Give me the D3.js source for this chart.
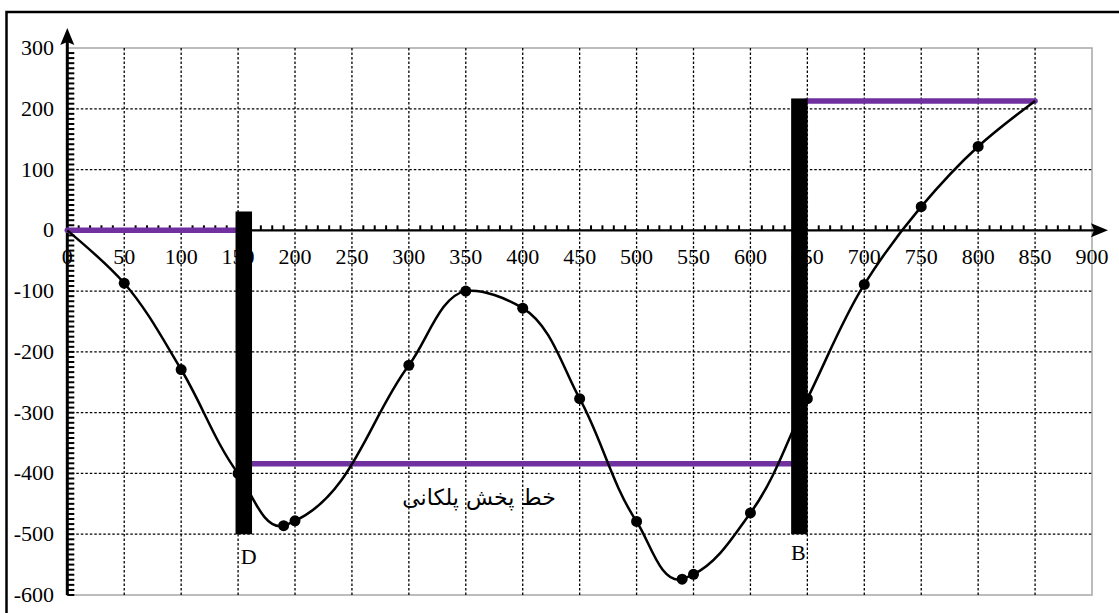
<!DOCTYPE html>
<html>
<head>
<meta charset="utf-8">
<script src="https://cdn.jsdelivr.net/npm/d3@7"></script>
<style>
  body { margin: 0; background: #fff; }
  svg { display: block; }
</style>
</head>
<body>
<svg id="chart" width="1119" height="613"></svg>
<script>
// curve samples (x, value)
const xValues = [0, 50, 100, 150, 190, 200, 300, 350, 400, 450, 500, 540, 550, 600, 650, 700, 750, 800, 850];
const yValues = [0, -87, -229, -400, -486, -478, -222, -100, -128, -277, -479, -574, -566, -465, -277, -89, 39, 138, 213];
// points drawn with a marker
const markedX = [50, 100, 150, 190, 200, 300, 350, 400, 450, 500, 540, 550, 600, 650, 700, 750, 800];

// stepped line segments: [x1, x2, level]
const stepSegments = [[0, 150, 0], [162, 636, -384], [649, 850, 213]];
// vertical bars
const barsX = [155, 643];
const barsTop = [31, 217];
const barsBottom = [-500, -500];
const barLabels = ['D', 'B'];

const xTicks = d3.range(0, 901, 50);
const yTicks = [300, 200, 100, 0, -100, -200, -300, -400, -500, -600];
const xGrid = d3.range(50, 851, 50);
const yGrid = [200, 100, -100, -200, -300, -400, -500];
const stepLabel = 'خط پخش پلکانی';

const serif = '"Liberation Serif", "Times New Roman", serif';
const svg = d3.select('#chart');
const x = d3.scaleLinear().domain([0, 900]).range([67.3, 1092]);
const y = d3.scaleLinear().domain([-600, 300]).range([595, 48]);

svg.append('rect').attr('width', 1119).attr('height', 613).attr('fill', '#fff');
// outer frame (runs past the right and bottom edges)
svg.append('rect').attr('x', 6.5).attr('y', 12).attr('width', 1130).attr('height', 620)
  .attr('fill', 'none').attr('stroke', '#000').attr('stroke-width', 2.5);

// plot border
svg.append('rect').attr('x', x(0)).attr('y', y(300)).attr('width', x(900) - x(0)).attr('height', y(-600) - y(300))
  .attr('fill', 'none').attr('stroke', '#a6a6a6').attr('stroke-width', 1.5);

// grid
const grid = svg.append('g').attr('stroke', '#000').attr('stroke-width', 1.3).attr('stroke-dasharray', '2.5,2');
grid.selectAll('.vg').data(xGrid).join('line')
  .attr('x1', d => x(d)).attr('x2', d => x(d)).attr('y1', y(300)).attr('y2', y(-600));
grid.selectAll('.hg').data(yGrid).join('line')
  .attr('x1', x(0)).attr('x2', x(900)).attr('y1', d => y(d)).attr('y2', d => y(d));

// x axis with minor ticks
const xMinor = d3.range(10, 900, 10).filter(d => d % 50 !== 0);
svg.append('g').selectAll('line').data(xMinor).join('line')
  .attr('x1', d => x(d)).attr('x2', d => x(d)).attr('y1', y(0)).attr('y2', y(0) - 5)
  .attr('stroke', '#000').attr('stroke-width', 2);
svg.append('line').attr('x1', x(0)).attr('x2', 1100).attr('y1', y(0)).attr('y2', y(0))
  .attr('stroke', '#000').attr('stroke-width', 2.2);
svg.append('path').attr('d', `M1108,${y(0)} L1091,${y(0) - 7} L1094,${y(0)} L1091,${y(0) + 7} Z`).attr('fill', '#000');

// y axis with minor ticks
const yMinor = d3.range(-600, 300, 100 / 12);
svg.append('g').selectAll('line').data(yMinor).join('line')
  .attr('x1', x(0)).attr('x2', x(0) + 7).attr('y1', d => y(d)).attr('y2', d => y(d))
  .attr('stroke', '#000').attr('stroke-width', 2);
svg.append('line').attr('x1', x(0)).attr('x2', x(0)).attr('y1', y(-600)).attr('y2', 36)
  .attr('stroke', '#000').attr('stroke-width', 3);
svg.append('path').attr('d', `M${x(0)},28 L${x(0) - 7},45 L${x(0)},42 L${x(0) + 7},45 Z`).attr('fill', '#000');

// tick labels
svg.append('g').selectAll('text').data(xTicks).join('text')
  .attr('font-family', serif).attr('font-size', 22)
  .attr('x', d => x(d)).attr('y', y(0) + 34)
  .attr('text-anchor', 'middle').text(d => d);
svg.append('g').selectAll('text').data(yTicks).join('text')
  .attr('font-family', serif).attr('font-size', 22)
  .attr('x', 54).attr('y', d => y(d) + 7)
  .attr('text-anchor', 'end').text(d => d < 0 ? '-' + Math.abs(d) : d);

// stepped line
svg.append('g').selectAll('line').data(stepSegments).join('line')
  .attr('x1', d => x(d[0])).attr('x2', d => x(d[1])).attr('y1', d => y(d[2])).attr('y2', d => y(d[2]))
  .attr('stroke', '#7030a0').attr('stroke-width', 5.5).attr('stroke-linecap', 'round');

// curve
const pts = xValues.map((v, i) => [v, yValues[i]]);
const line = d3.line().x(d => x(d[0])).y(d => y(d[1])).curve(d3.curveCatmullRom.alpha(1));
svg.append('path').attr('d', line(pts)).attr('fill', 'none').attr('stroke', '#000').attr('stroke-width', 2.5);
svg.append('g').selectAll('circle').data(pts.filter(d => markedX.includes(d[0]))).join('circle')
  .attr('cx', d => x(d[0])).attr('cy', d => y(d[1])).attr('r', 5.5).attr('fill', '#000');

// bars
const barW = 16.5;
svg.append('g').selectAll('rect').data(barsX).join('rect')
  .attr('x', d => x(d) - barW / 2).attr('width', barW)
  .attr('y', (d, i) => y(barsTop[i])).attr('height', (d, i) => y(barsBottom[i]) - y(barsTop[i]))
  .attr('fill', '#000');
svg.append('g').selectAll('text').data(barsX).join('text')
  .attr('font-family', serif).attr('font-size', 22)
  .attr('x', (d, i) => x(d) + (i === 0 ? 5 : -1)).attr('y', (d, i) => y(barsBottom[i]) + (i === 0 ? 30 : 26))
  .attr('text-anchor', 'middle').text((d, i) => barLabels[i]);

// label for stepped line
svg.append('text').attr('x', 479).attr('y', 505).attr('text-anchor', 'middle')
  .attr('font-family', '"DejaVu Sans", sans-serif').attr('font-size', 22).attr('direction', 'rtl')
  .text(stepLabel);
</script>
</body>
</html>
